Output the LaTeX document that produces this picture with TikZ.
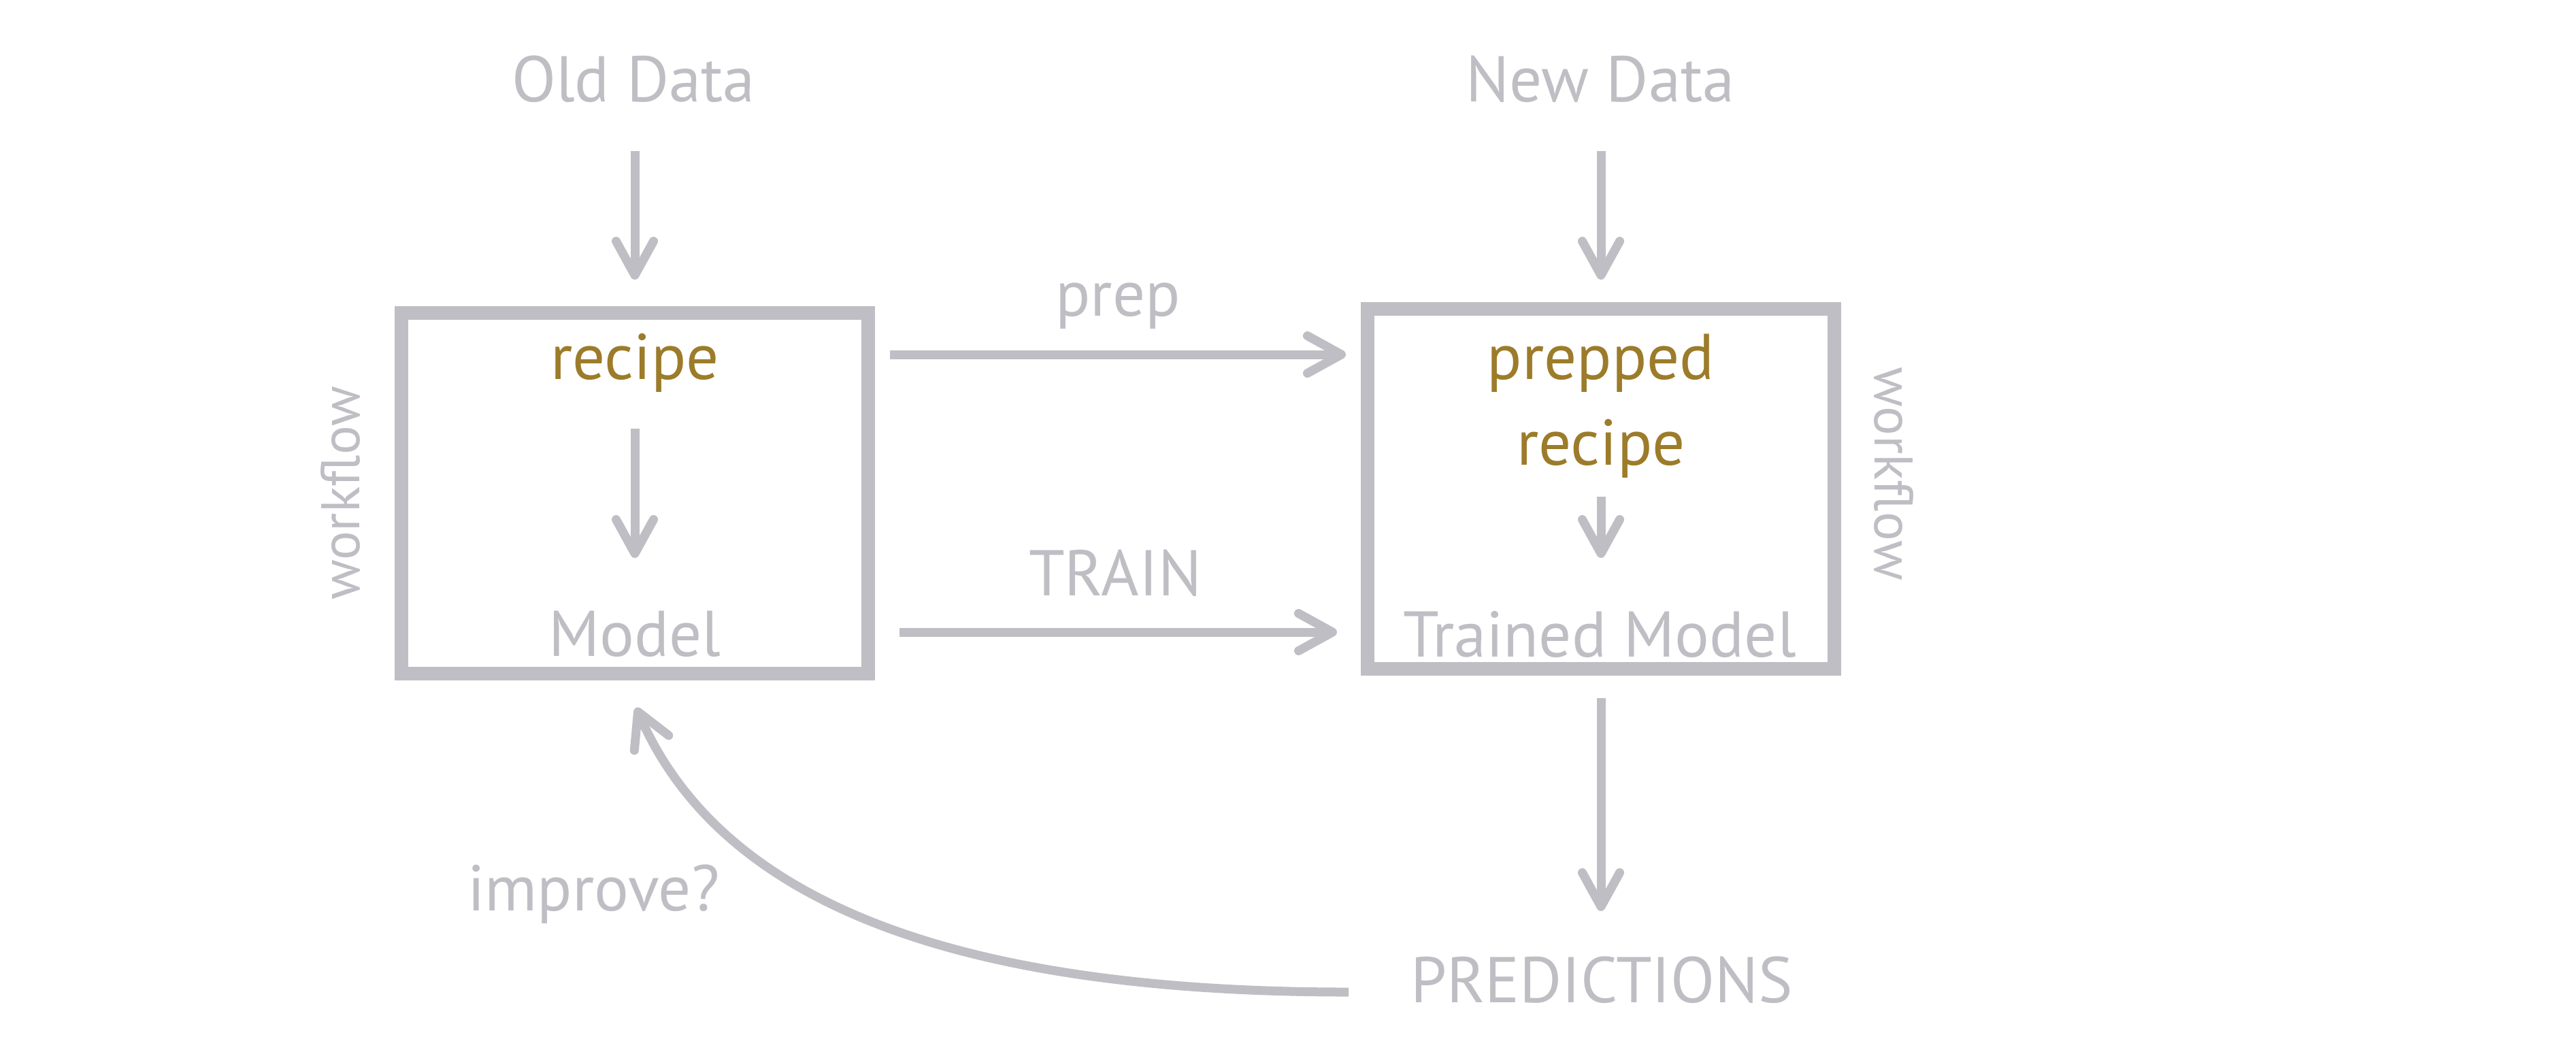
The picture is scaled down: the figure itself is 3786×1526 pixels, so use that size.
\documentclass[tikz,border=0pt]{standalone}
\usepackage{fontspec}
\setmainfont{PT Sans}
\usetikzlibrary{arrows.meta,calc}
\definecolor{lgrey}{RGB}{190,190,196}
\definecolor{gold}{RGB}{156,124,42}
\begin{document}
\begin{tikzpicture}[x=0.2pt,y=-0.2pt,
  lbl/.style={inner sep=0pt, outer sep=0pt, text=lgrey, font=\fontsize{19pt}{22pt}\selectfont, anchor=base},
  hl/.style={lbl, text=gold},
  wf/.style={inner sep=0pt, outer sep=0pt, text=lgrey, font=\fontsize{16pt}{19pt}\selectfont},
  box/.style={draw=lgrey, line width=4pt, inner sep=0pt, outer sep=0pt, minimum width=137.2pt, minimum height=106pt},
  arr/.style={draw=lgrey, line width=2.6pt, -{Straight Barb[length=10pt,width=11pt,round]}}]
\fill[white] (0,0) rectangle (3786,1526);
\useasboundingbox (0,0) rectangle (3786,1526);
% boxes
\node[box] (leftbox) at (933,725) {};
\node[box, minimum height=105.8pt] (rightbox) at (2353,718.5) {};
% texts
\node[lbl] (olddata) at (931,149) {Old Data};
\node[lbl] (newdata) at (2352,149) {New Data};
\node[hl] (recipe) at (933,557) {recipe};
\node[lbl] (model) at (933,964) {Model};
\node[hl] (prepped) at (2353,557) {prepped};
\node[hl] (precipe) at (2353,683) {recipe};
\node[lbl] (trained) at (2351,965) {Trained Model};
\node[lbl] (preplbl) at (1643,464) {prep};
\node[lbl] (trainlbl) at (1639,875) {TRAIN};
\node[lbl] (pred) at (2354,1473) {PREDICTIONS};
\node[lbl, anchor=base west] (improve) at (687,1338) {improve?};
\node[wf, rotate=90, anchor=base] (wfl) at (528,725) {workflow};
\node[wf, rotate=-90, anchor=base] (wfr) at (2755,696) {workflow};
% connectors
\draw[arr] ($(olddata.base -| leftbox.north)+(0,73)$) -- ($(leftbox.north)+(0,-49)$);
\draw[arr] ($(recipe.base -| leftbox.north)+(0,73)$) -- ($(model.base -| leftbox.north)+(0,-144)$);
\draw[arr] ($(newdata.base -| rightbox.north)+(0,73)$) -- ($(rightbox.north)+(0,-43)$);
\draw[arr] ($(precipe.base -| rightbox.north)+(0,47)$) -- ($(trained.base -| rightbox.north)+(0,-145)$);
\draw[arr] ($(leftbox.north east)+(32,61)$) -- ($(rightbox.north west)+(-32,67)$);
\draw[arr] ($(leftbox.north east)+(46,469)$) -- ($(rightbox.north west)+(-45,475)$);
\draw[arr] ($(rightbox.south)+(0,43)$) -- ($(pred.base -| rightbox.south)+(0,-134)$);
\draw[arr] ($(pred.base west)+(-91,-15)$) .. controls +(-600,0) and +(120,276) .. ($(leftbox.south)+(2,50)$);
\end{tikzpicture}
\end{document}
